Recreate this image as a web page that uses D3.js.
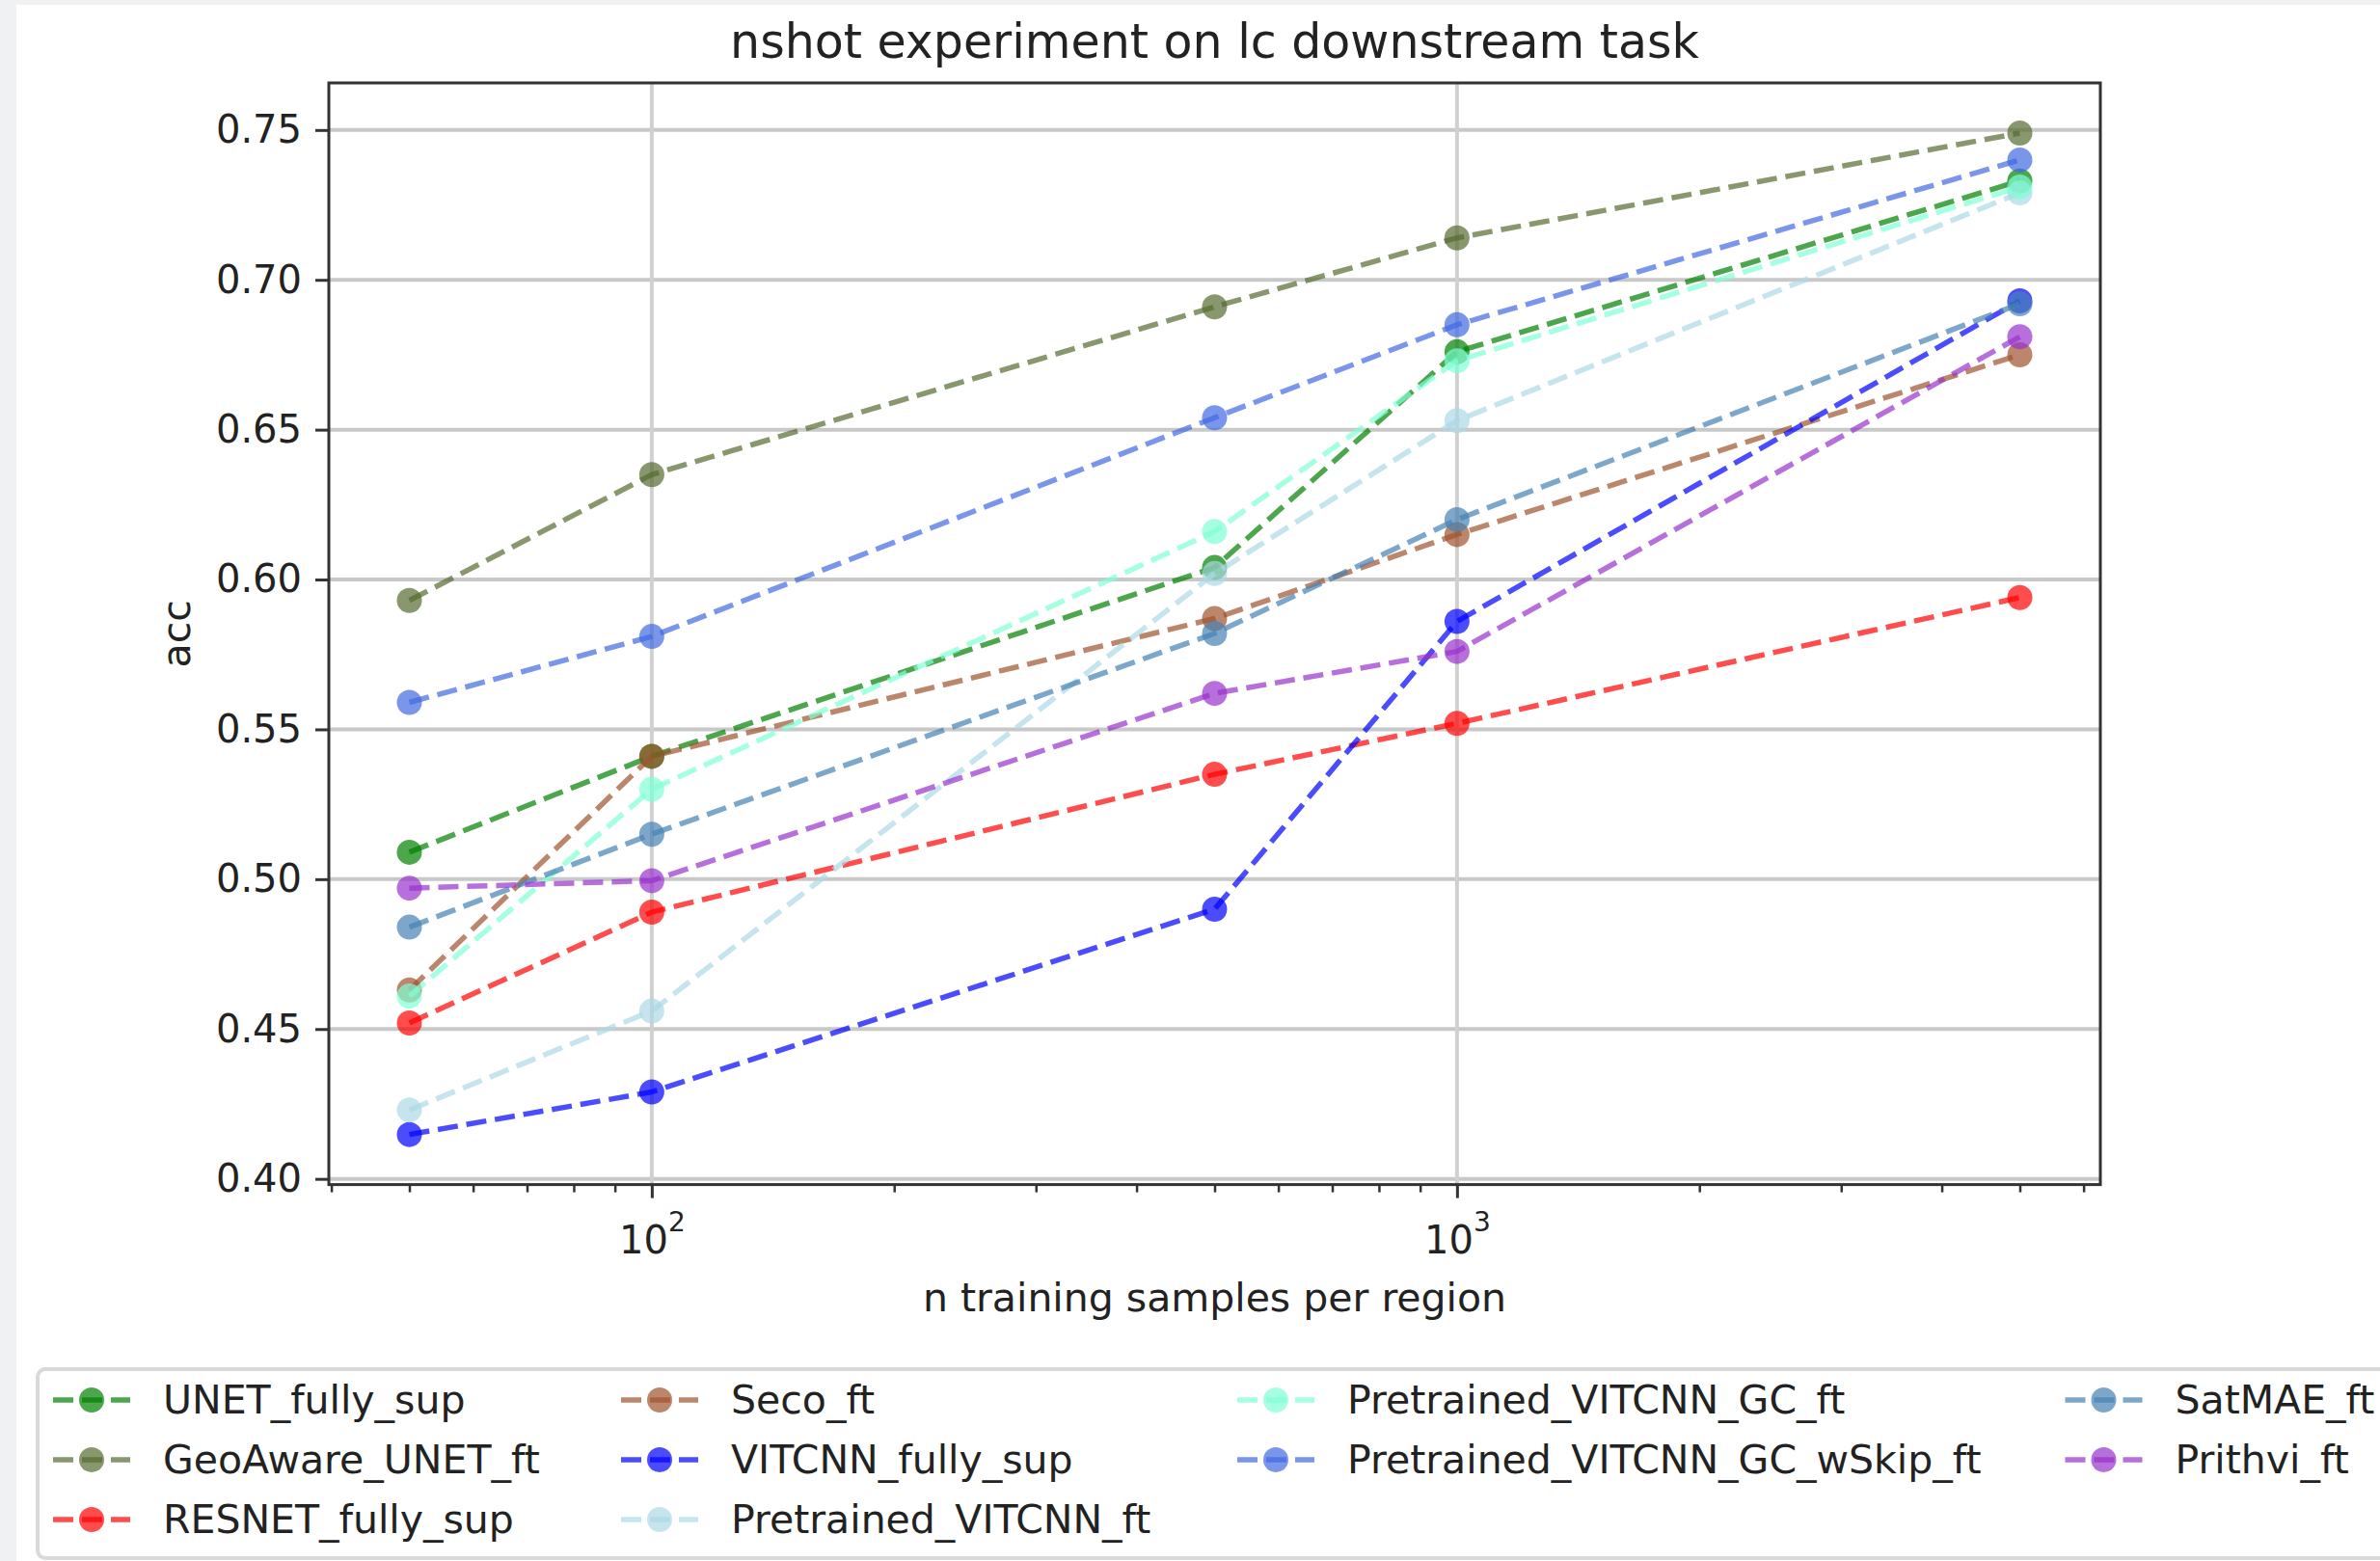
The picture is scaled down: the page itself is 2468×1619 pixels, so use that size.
<!DOCTYPE html>
<html>
<head>
<meta charset="utf-8">
<script src="https://d3js.org/d3.v7.min.js"></script>
<style>
	body { margin: 0; background: #f0f1f3; }
	svg { display: block; font-family: "DejaVu Sans", sans-serif; }
</style>
</head>
<body>
<div id="chart"></div>
<script>

// n training samples per region
var nSamples = [50, 100, 500, 1000, 5000]

// series names, in legend order (column major, 4 columns)
var seriesNames = [
	"UNET_fully_sup", "GeoAware_UNET_ft", "RESNET_fully_sup",
	"Seco_ft", "VITCNN_fully_sup", "Pretrained_VITCNN_ft",
	"Pretrained_VITCNN_GC_ft", "Pretrained_VITCNN_GC_wSkip_ft",
	"SatMAE_ft", "Prithvi_ft"
]

var seriesColors = [
	"green", "darkolivegreen", "red",
	"sienna", "blue", "lightblue",
	"aquamarine", "royalblue",
	"steelblue", "darkorchid"
]

// acc values
var accUNET      = [0.509, 0.541, 0.604, 0.676, 0.733]
var accGeoAware  = [0.593, 0.635, 0.691, 0.714, 0.749]
var accRESNET    = [0.452, 0.489, 0.535, 0.552, 0.594]
var accSeco      = [0.463, 0.541, 0.587, 0.615, 0.675]
var accVITCNN    = [0.4148, 0.429, 0.490, 0.586, 0.693]
var accPreVIT    = [0.423, 0.456, 0.602, 0.653, 0.729]
var accPreVITGC  = [0.461, 0.530, 0.616, 0.673, 0.731]
var accPreVITGCs = [0.559, 0.581, 0.654, 0.685, 0.740]
var accSatMAE    = [0.484, 0.515, 0.582, 0.620, 0.692]
var accPrithvi   = [0.497, 0.4995, 0.562, 0.576, 0.681]

var seriesValues = [accUNET, accGeoAware, accRESNET, accSeco, accVITCNN,
	accPreVIT, accPreVITGC, accPreVITGCs, accSatMAE, accPrithvi]

var yTicks = [0.40, 0.45, 0.50, 0.55, 0.60, 0.65, 0.70, 0.75]
var xMajor = [100, 1000]
var xMinor = [40, 50, 60, 70, 80, 90, 200, 300, 400, 500, 600, 700, 800, 900, 2000, 3000, 4000, 5000, 6000]

var titleText = "nshot experiment on lc downstream task"
var xLabel = "n training samples per region"
var yLabel = "acc"


var width = 2468, height = 1619
var plot = {left: 341, right: 2178, top: 86, bottom: 1228.6}
var alpha = 0.7

var svg = d3.select("#chart").append("svg")
	.attr("width", width)
	.attr("height", height)

// white output area inside the notebook frame
svg.append("rect")
	.attr("x", 17).attr("y", 5)
	.attr("width", width).attr("height", height)
	.attr("fill", "#ffffff")

// scales, matplotlib style 5% margins (log for x)
var lx0 = Math.log10(d3.min(nSamples)), lx1 = Math.log10(d3.max(nSamples))
var mx = (lx1 - lx0) * 0.05
var xScale = d3.scaleLog()
	.domain([Math.pow(10, lx0 - mx), Math.pow(10, lx1 + mx)])
	.range([plot.left, plot.right])

var allVals = _flat(seriesValues)
var yMin = d3.min(allVals), yMax = d3.max(allVals)
var my = (yMax - yMin) * 0.05
var yScale = d3.scaleLinear()
	.domain([yMin - my, yMax + my])
	.range([plot.bottom, plot.top])

function _flat(arr){
	var out = []
	arr.forEach(function(a){ a.forEach(function(v){ out.push(v) }) })
	return out
}

// grid
var grid = svg.append("g")
grid.selectAll("line.hgrid")
	.data(yTicks)
	.enter()
	.append("line")
	.attr("x1", plot.left).attr("x2", plot.right)
	.attr("y1", function(d){ return yScale(d) })
	.attr("y2", function(d){ return yScale(d) })
	.attr("stroke", "#c8c8c8")
	.attr("stroke-width", 4)
grid.selectAll("line.vgrid")
	.data(xMajor)
	.enter()
	.append("line")
	.attr("y1", plot.top).attr("y2", plot.bottom)
	.attr("x1", function(d){ return xScale(d) })
	.attr("x2", function(d){ return xScale(d) })
	.attr("stroke", "#d0d0d0")
	.attr("stroke-width", 4)

// series: dashed line then markers
var line = d3.line()
	.x(function(d){ return xScale(d[0]) })
	.y(function(d){ return yScale(d[1]) })

seriesNames.forEach(function(name, i){
	var pts = nSamples.map(function(n, j){ return [n, seriesValues[i][j]] })
	var g = svg.append("g").attr("class", "series")
	g.append("path")
		.attr("d", line(pts))
		.attr("fill", "none")
		.attr("stroke", seriesColors[i])
		.attr("stroke-opacity", alpha)
		.attr("stroke-width", 5.5)
		.attr("stroke-dasharray", "21,9")
	g.selectAll("circle")
		.data(pts)
		.enter()
		.append("circle")
		.attr("cx", function(d){ return xScale(d[0]) })
		.attr("cy", function(d){ return yScale(d[1]) })
		.attr("r", 13)
		.attr("fill", seriesColors[i])
		.attr("fill-opacity", alpha)
})

// y axis
var yAxis = svg.append("g")
	.attr("transform", "translate(" + plot.left + ",0)")
	.call(d3.axisLeft(yScale).tickValues(yTicks).tickFormat(d3.format(".2f")).tickSize(14).tickPadding(14))
yAxis.select(".domain").remove()
yAxis.selectAll("line").attr("stroke", "#333").attr("stroke-width", 3)
yAxis.selectAll("text")
	.attr("font-size", 40)
	.attr("font-family", "DejaVu Sans")
	.attr("fill", "#222")

// x axis: minor ticks
var xMinorAxis = svg.append("g")
	.attr("transform", "translate(0," + plot.bottom + ")")
	.call(d3.axisBottom(xScale).tickValues(xMinor).tickFormat("").tickSize(8))
xMinorAxis.select(".domain").remove()
xMinorAxis.selectAll("line").attr("stroke", "#333").attr("stroke-width", 2.5)

// x axis: major ticks with 10^n labels
var xAxis = svg.append("g")
	.attr("transform", "translate(0," + plot.bottom + ")")
	.call(d3.axisBottom(xScale).tickValues(xMajor).tickFormat("").tickSize(14))
xAxis.select(".domain").remove()
xAxis.selectAll("line").attr("stroke", "#333").attr("stroke-width", 3)
xAxis.selectAll(".tick").each(function(d){
	var t = d3.select(this).append("text")
		.attr("y", 1300 - plot.bottom)
		.attr("text-anchor", "middle")
		.attr("font-size", 40)
		.attr("font-family", "DejaVu Sans")
		.attr("fill", "#222")
	t.append("tspan").text("10")
	t.append("tspan")
		.attr("font-size", 28)
		.attr("dy", -23)
		.text(Math.round(Math.log10(d)))
})

// spines
svg.append("rect")
	.attr("x", plot.left).attr("y", plot.top)
	.attr("width", plot.right - plot.left)
	.attr("height", plot.bottom - plot.top)
	.attr("fill", "none")
	.attr("stroke", "#333")
	.attr("stroke-width", 3)

// title and labels
svg.append("text")
	.attr("x", (plot.left + plot.right) / 2)
	.attr("y", 60)
	.attr("text-anchor", "middle")
	.attr("font-size", 49)
	.attr("fill", "#222")
	.text(titleText)

svg.append("text")
	.attr("x", (plot.left + plot.right) / 2)
	.attr("y", 1360)
	.attr("text-anchor", "middle")
	.attr("font-size", 41)
	.attr("fill", "#222")
	.text(xLabel)

svg.append("text")
	.attr("transform", "translate(197," + ((plot.top + plot.bottom) / 2) + ") rotate(-90)")
	.attr("text-anchor", "middle")
	.attr("font-size", 41)
	.attr("fill", "#222")
	.text(yLabel)

// legend (4 columns, column major)
var legendCols = [55, 644, 1283, 2141.5]
var legendRows = [1452, 1514, 1576]
var perCol = [3, 3, 2, 2]

var legend = svg.append("g")
legend.append("rect")
	.attr("x", 39).attr("y", 1420)
	.attr("width", 2600).attr("height", 196)
	.attr("rx", 8)
	.attr("fill", "#ffffff")
	.attr("stroke", "#d9d9d9")
	.attr("stroke-width", 4)

var idx = 0
perCol.forEach(function(count, c){
	for (var r = 0; r < count; r++) {
		var i = idx
		var lx = legendCols[c], ly = legendRows[r]
		var item = legend.append("g")
		item.append("line")
			.attr("x1", lx).attr("x2", lx + 80)
			.attr("y1", ly).attr("y2", ly)
			.attr("stroke", seriesColors[i])
			.attr("stroke-opacity", alpha)
			.attr("stroke-width", 5.5)
			.attr("stroke-dasharray", "21,9")
		item.append("circle")
			.attr("cx", lx + 40).attr("cy", ly)
			.attr("r", 13)
			.attr("fill", seriesColors[i])
			.attr("fill-opacity", alpha)
		item.append("text")
			.attr("x", lx + 114)
			.attr("y", ly + 14)
			.attr("font-size", 41)
			.attr("fill", "#222")
			.text(seriesNames[i])
		idx++
	}
})

</script>
</body>
</html>
